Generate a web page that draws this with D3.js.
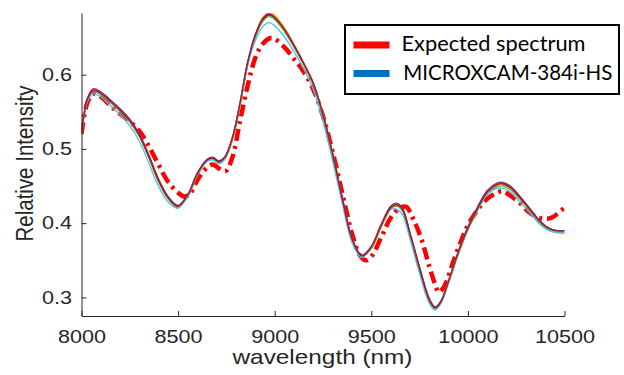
<!DOCTYPE html>
<html>
<head>
<meta charset="utf-8">
<script src="https://cdn.jsdelivr.net/npm/d3@7"></script>
<style>
  html, body { margin: 0; padding: 0; background: #fff; }
  svg { display: block; }
</style>
</head>
<body>
<div id="chart"></div>
<script>
// wavelength grid (nm) of the camera spectra
const wavelengths = [8000, 8030, 8060, 8100, 8150, 8200, 8250, 8300, 8350, 8400, 8450, 8500, 8550, 8600, 8650, 8680, 8710, 8740, 8780, 8820, 8860, 8900, 8940, 8970, 9000, 9050, 9100, 9150, 9200, 9250, 9300, 9350, 9400, 9450, 9500, 9550, 9600, 9630, 9660, 9700, 9750, 9800, 9830, 9860, 9900, 9950, 10000, 10050, 10100, 10150, 10180, 10220, 10270, 10320, 10370, 10420, 10460, 10500];

// MICROXCAM-384i-HS measurements (one array per trace)
const camBlue = [0.521, 0.565, 0.578, 0.574, 0.563, 0.551, 0.537, 0.517, 0.488, 0.456, 0.433, 0.422, 0.437, 0.466, 0.484, 0.487, 0.482, 0.487, 0.513, 0.560, 0.615, 0.652, 0.674, 0.680, 0.676, 0.660, 0.638, 0.614, 0.587, 0.545, 0.492, 0.432, 0.378, 0.355, 0.367, 0.396, 0.420, 0.424, 0.418, 0.385, 0.338, 0.297, 0.286, 0.294, 0.322, 0.360, 0.393, 0.419, 0.441, 0.451, 0.452, 0.447, 0.433, 0.418, 0.402, 0.392, 0.389, 0.389];
const camOrange = [0.519, 0.564, 0.579, 0.576, 0.565, 0.553, 0.539, 0.520, 0.491, 0.459, 0.435, 0.423, 0.436, 0.464, 0.484, 0.488, 0.483, 0.486, 0.511, 0.557, 0.613, 0.652, 0.676, 0.683, 0.679, 0.663, 0.641, 0.616, 0.589, 0.548, 0.495, 0.435, 0.380, 0.356, 0.366, 0.394, 0.419, 0.425, 0.420, 0.388, 0.341, 0.299, 0.287, 0.293, 0.320, 0.358, 0.391, 0.418, 0.441, 0.452, 0.454, 0.449, 0.435, 0.420, 0.403, 0.392, 0.388, 0.387];
const camYellow = [0.520, 0.566, 0.580, 0.576, 0.564, 0.552, 0.538, 0.518, 0.489, 0.457, 0.434, 0.423, 0.437, 0.466, 0.485, 0.488, 0.483, 0.487, 0.513, 0.561, 0.617, 0.655, 0.678, 0.684, 0.680, 0.663, 0.640, 0.615, 0.588, 0.546, 0.493, 0.433, 0.379, 0.356, 0.368, 0.397, 0.421, 0.425, 0.419, 0.386, 0.339, 0.298, 0.287, 0.295, 0.323, 0.360, 0.393, 0.419, 0.441, 0.451, 0.452, 0.447, 0.434, 0.419, 0.402, 0.391, 0.387, 0.386];
const camPurple = [0.522, 0.568, 0.581, 0.577, 0.566, 0.554, 0.540, 0.520, 0.490, 0.458, 0.435, 0.424, 0.439, 0.468, 0.486, 0.489, 0.484, 0.489, 0.515, 0.562, 0.617, 0.654, 0.676, 0.681, 0.677, 0.661, 0.639, 0.615, 0.588, 0.546, 0.493, 0.434, 0.380, 0.357, 0.369, 0.398, 0.423, 0.427, 0.421, 0.387, 0.340, 0.298, 0.287, 0.295, 0.323, 0.362, 0.395, 0.422, 0.444, 0.454, 0.455, 0.450, 0.436, 0.420, 0.404, 0.393, 0.390, 0.390];
const camGreen = [0.520, 0.564, 0.577, 0.573, 0.562, 0.550, 0.536, 0.516, 0.487, 0.455, 0.432, 0.421, 0.436, 0.465, 0.483, 0.486, 0.481, 0.486, 0.512, 0.559, 0.614, 0.650, 0.672, 0.678, 0.674, 0.658, 0.637, 0.613, 0.586, 0.544, 0.491, 0.431, 0.377, 0.354, 0.366, 0.395, 0.419, 0.423, 0.417, 0.384, 0.337, 0.295, 0.284, 0.292, 0.320, 0.358, 0.391, 0.417, 0.439, 0.449, 0.450, 0.445, 0.432, 0.417, 0.401, 0.391, 0.388, 0.388];
const camCyan = [0.522, 0.563, 0.574, 0.570, 0.558, 0.546, 0.531, 0.510, 0.480, 0.449, 0.428, 0.420, 0.438, 0.467, 0.483, 0.485, 0.480, 0.486, 0.514, 0.561, 0.613, 0.646, 0.665, 0.670, 0.666, 0.651, 0.631, 0.608, 0.580, 0.537, 0.484, 0.426, 0.374, 0.354, 0.368, 0.397, 0.418, 0.419, 0.412, 0.379, 0.332, 0.292, 0.283, 0.292, 0.322, 0.361, 0.394, 0.419, 0.439, 0.447, 0.447, 0.442, 0.428, 0.414, 0.399, 0.390, 0.388, 0.388];
const camDarkRed = [0.521, 0.566, 0.579, 0.575, 0.564, 0.552, 0.538, 0.518, 0.489, 0.457, 0.434, 0.423, 0.438, 0.467, 0.485, 0.488, 0.483, 0.488, 0.514, 0.561, 0.616, 0.653, 0.675, 0.681, 0.677, 0.661, 0.639, 0.615, 0.588, 0.546, 0.493, 0.433, 0.379, 0.356, 0.368, 0.397, 0.421, 0.425, 0.419, 0.386, 0.339, 0.297, 0.286, 0.294, 0.322, 0.361, 0.394, 0.420, 0.442, 0.452, 0.453, 0.448, 0.434, 0.419, 0.403, 0.393, 0.390, 0.390];

// expected spectrum
const expectedWl = [8000, 8030, 8060, 8100, 8150, 8200, 8250, 8300, 8350, 8400, 8450, 8500, 8530, 8560, 8600, 8650, 8680, 8710, 8745, 8780, 8820, 8860, 8900, 8940, 8975, 9000, 9050, 9100, 9150, 9200, 9250, 9300, 9350, 9400, 9440, 9470, 9500, 9550, 9600, 9650, 9680, 9720, 9760, 9800, 9830, 9850, 9880, 9920, 9960, 10000, 10050, 10100, 10150, 10180, 10220, 10270, 10320, 10370, 10400, 10430, 10460, 10500];
const expectedVal = [0.520, 0.562, 0.574, 0.570, 0.558, 0.547, 0.537, 0.524, 0.503, 0.478, 0.455, 0.441, 0.436, 0.439, 0.458, 0.475, 0.479, 0.474, 0.470, 0.488, 0.537, 0.585, 0.623, 0.642, 0.649, 0.648, 0.637, 0.621, 0.604, 0.580, 0.544, 0.496, 0.440, 0.386, 0.357, 0.350, 0.355, 0.380, 0.407, 0.421, 0.422, 0.404, 0.378, 0.342, 0.318, 0.307, 0.316, 0.345, 0.373, 0.397, 0.418, 0.433, 0.441, 0.443, 0.437, 0.427, 0.414, 0.407, 0.406, 0.407, 0.412, 0.421];

const xTicks = [8000, 8500, 9000, 9500, 10000, 10500];
const yTicks = [0.3, 0.4, 0.5, 0.6];
const legendLabels = ['Expected spectrum', 'MICROXCAM-384i-HS'];

const camSeries = [
  { name: 'blue', values: camBlue, color: '#0072BD' },
  { name: 'orange', values: camOrange, color: '#D95319' },
  { name: 'yellow', values: camYellow, color: '#EDB120' },
  { name: 'purple', values: camPurple, color: '#7E2F8E' },
  { name: 'green', values: camGreen, color: '#77AC30' },
  { name: 'cyan', values: camCyan, color: '#4DBEEE' },
  { name: 'darkred', values: camDarkRed, color: '#A2142F' },
];

const width = 624, height = 375;
const margin = { top: 13, right: 59.5, bottom: 59, left: 81.5 };
const w = width - margin.left - margin.right;
const h = height - margin.top - margin.bottom;
const axisColor = '#262626';
const sx = 1.2; // the source figure is stretched horizontally

const svg = d3.select('#chart').append('svg').attr('width', width).attr('height', height);
const g = svg.append('g').attr('transform', `translate(${margin.left},${margin.top})`);

const x = d3.scaleLinear().domain([8000, 10500]).range([0, w]);
const y = d3.scaleLinear().domain([0.275, 0.683]).range([h, 0]);

svg.append('defs').append('clipPath').attr('id', 'plot-clip')
  .append('rect').attr('width', w).attr('height', h);

const line = d3.line()
  .x((d) => x(d[0]))
  .y((d) => y(d[1]))
  .curve(d3.curveCatmullRom.alpha(0.5));

const plot = g.append('g').attr('clip-path', 'url(#plot-clip)');

// expected spectrum first (it sits under the camera traces), thick dash-dot
plot.append('path')
  .attr('fill', 'none')
  .attr('stroke', '#ff0000')
  .attr('stroke-width', 4.5)
  .attr('stroke-dasharray', '12,5,3,5')
  .attr('d', line(expectedWl.map((wl, i) => [wl, expectedVal[i]])));

// camera traces
plot.selectAll('.cam')
  .data(camSeries)
  .enter()
  .append('path')
  .attr('class', 'cam')
  .attr('fill', 'none')
  .attr('stroke', (d) => d.color)
  .attr('stroke-width', 1.3)
  .attr('d', (d) => line(wavelengths.map((wl, i) => [wl, d.values[i]])));

// axes
const xAxis = g.append('g')
  .attr('transform', `translate(0,${h})`)
  .call(d3.axisBottom(x).tickValues(xTicks).tickSizeInner(-5).tickSizeOuter(0).tickPadding(14).tickFormat(d3.format('d')));
const yAxis = g.append('g')
  .call(d3.axisLeft(y).tickValues(yTicks).tickSizeInner(-5).tickSizeOuter(0).tickPadding(8).tickFormat(d3.format('.1f')));

[xAxis, yAxis].forEach((ax) => {
  ax.select('.domain').attr('stroke', axisColor).attr('stroke-width', 1);
  ax.selectAll('.tick line').attr('stroke', axisColor);
  ax.selectAll('.tick text')
    .attr('fill', axisColor)
    .style('font-family', '"Liberation Sans", Arial, sans-serif')
    .style('font-size', '18px')
    .attr('transform', `scale(${sx},1)`);
});

// axis labels
svg.append('text')
  .attr('transform', `translate(${margin.left + w / 2 - 0.5},363.5) scale(${sx},1)`)
  .attr('text-anchor', 'middle')
  .attr('fill', axisColor)
  .style('font-family', '"Liberation Sans", Arial, sans-serif')
  .style('font-size', '20.3px')
  .text('wavelength (nm)');

svg.append('text')
  .attr('transform', `translate(33,163.5) scale(${sx},1) rotate(-90)`)
  .attr('text-anchor', 'middle')
  .attr('fill', axisColor)
  .style('font-family', '"Liberation Sans", Arial, sans-serif')
  .style('font-size', '20.5px')
  .text('Relative Intensity');

// legend
const legend = svg.append('g').attr('transform', 'translate(345,25)');
legend.append('rect')
  .attr('width', 274)
  .attr('height', 69)
  .attr('fill', '#fff')
  .attr('stroke', '#000')
  .attr('stroke-width', 2);

const legendItems = [
  { label: legendLabels[0], color: '#ff0000', len: 184 },
  { label: legendLabels[1], color: '#0072BD', len: 209 },
];
const item = legend.selectAll('g.item')
  .data(legendItems)
  .enter()
  .append('g')
  .attr('class', 'item')
  .attr('transform', (d, i) => `translate(0,${20 + i * 28.5})`);

item.append('line')
  .attr('x1', 8.5).attr('x2', 44.5)
  .attr('stroke', (d) => d.color)
  .attr('stroke-width', 7);

item.append('text')
  .attr('x', (d, i) => (i === 0 ? 56.5 : 58.3))
  .attr('y', 6)
  .attr('fill', '#000')
  .attr('textLength', (d) => d.len)
  .attr('lengthAdjust', 'spacingAndGlyphs')
  .style('font-family', 'Lato, "Open Sans", sans-serif')
  .style('font-size', '21.5px')
  .text((d) => d.label);
</script>
</body>
</html>
